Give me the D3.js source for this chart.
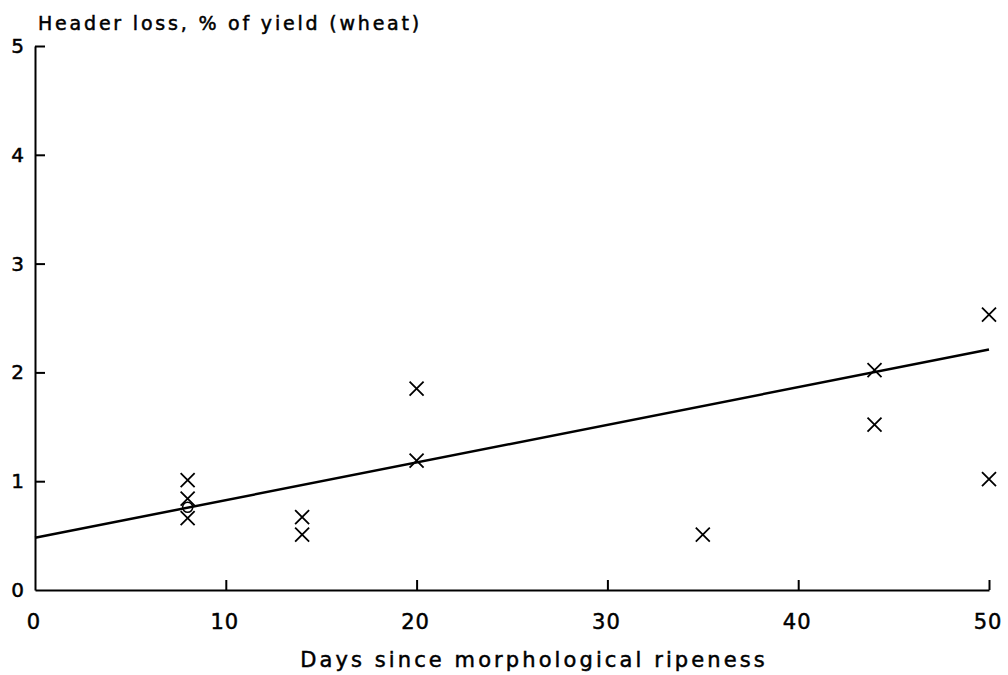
<!DOCTYPE html>
<html>
<head>
<meta charset="utf-8">
<script src="https://cdn.jsdelivr.net/npm/d3@7"></script>
<style>
    body { margin: 0; background: #fff; }
    svg text { font-family: "DejaVu Sans", sans-serif; fill: #000; stroke: #000; stroke-width: 0.5px; }
</style>
</head>
<body>
<div id="chart"></div>
<script>
"use strict";

// days since morphological ripeness / header loss, % of yield
const days = [8, 8, 8, 14, 14, 20, 20, 35, 44, 44, 50, 50];
const loss = [1.01, 0.84, 0.66, 0.67, 0.51, 1.85, 1.19, 0.51, 2.02, 1.52, 2.53, 1.02];
// the small ring on the line at day 8
const ringDays = [8];
const ringLoss = [0.76];
// fitted line end points
const fitDays = [0, 50];
const fitLoss = [0.48, 2.21];

const xTicks = [0, 10, 20, 30, 40, 50];
const yTicks = [0, 1, 2, 3, 4, 5];

function buildChart() {
    const width = 1008, height = 675;
    const left = 35, right = 989, top = 46, bottom = 590;

    const svg = d3.select("#chart").append("svg")
        .attr("width", width).attr("height", height);

    const x = d3.scaleLinear().domain([0, 50]).range([left, right]);
    const y = d3.scaleLinear().domain([0, 5]).range([bottom, top]);

    // axes, ticks pointing inward
    const xAxis = svg.append("g")
        .attr("transform", "translate(0," + bottom + ")")
        .call(d3.axisTop(x).tickValues(xTicks).tickSize(10).tickSizeOuter(0).tickFormat(""));
    xAxis.select(".domain").attr("stroke-width", 2);
    xAxis.selectAll(".tick line").attr("stroke-width", 2)
        .filter(function (d) { return d === 0; }).remove();

    const yAxis = svg.append("g")
        .attr("transform", "translate(" + left + ",0)")
        .call(d3.axisRight(y).tickValues(yTicks).tickSize(10).tickSizeOuter(0).tickFormat(""));
    yAxis.select(".domain").attr("stroke-width", 2);
    yAxis.selectAll(".tick line").attr("stroke-width", 2)
        .filter(function (d) { return d === 0; }).remove();

    // tick labels
    svg.append("g").selectAll("text")
        .data(xTicks).enter().append("text")
        .attr("x", function (d) { return x(d) - 1; })
        .attr("y", 629)
        .attr("text-anchor", "middle")
        .style("font-size", "21px")
        .style("letter-spacing", "1px")
        .text(function (d) { return d; });

    svg.append("g").selectAll("text")
        .data(yTicks).enter().append("text")
        .attr("x", 24)
        .attr("y", function (d) { return y(d) + 7; })
        .attr("text-anchor", "end")
        .style("font-size", "20px")
        .text(function (d) { return d; });

    // titles
    svg.append("text")
        .attr("x", 38).attr("y", 30)
        .style("font-size", "19px")
        .style("letter-spacing", "2.8px")
        .text("Header loss, % of yield (wheat)");

    svg.append("text")
        .attr("x", 534).attr("y", 667)
        .attr("text-anchor", "middle")
        .style("font-size", "21px")
        .style("letter-spacing", "3.1px")
        .text("Days since morphological ripeness");

    // fitted line
    const line = d3.line()
        .x(function (d) { return x(d[0]); })
        .y(function (d) { return y(d[1]); });
    svg.append("path")
        .datum(d3.zip(fitDays, fitLoss))
        .attr("d", line)
        .attr("fill", "none")
        .attr("stroke", "#000")
        .attr("stroke-width", 2.5);

    // cross markers
    const s = 7;
    svg.append("g").selectAll("path")
        .data(d3.zip(days, loss)).enter().append("path")
        .attr("d", function (d) {
            const cx = x(d[0]), cy = y(d[1]);
            return "M" + (cx - s) + "," + (cy - s) + "L" + (cx + s) + "," + (cy + s) +
                "M" + (cx - s) + "," + (cy + s) + "L" + (cx + s) + "," + (cy - s);
        })
        .attr("fill", "none")
        .attr("stroke", "#000")
        .attr("stroke-width", 1.8);

    svg.append("g").selectAll("circle")
        .data(d3.zip(ringDays, ringLoss)).enter().append("circle")
        .attr("cx", function (d) { return x(d[0]); })
        .attr("cy", function (d) { return y(d[1]); })
        .attr("r", 5)
        .attr("fill", "none")
        .attr("stroke", "#000")
        .attr("stroke-width", 1.5);
}

buildChart();
</script>
</body>
</html>
